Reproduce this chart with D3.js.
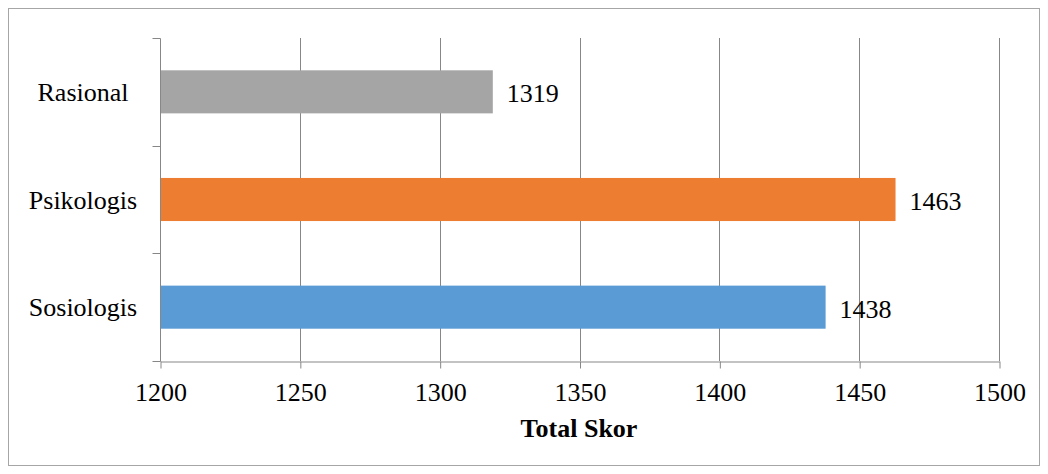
<!DOCTYPE html>
<html><head><meta charset="utf-8">
<script src="https://cdn.jsdelivr.net/npm/d3@7"></script>
<style>body{margin:0;background:#fff}svg{display:block}</style>
</head><body>
<script>
const categories = ["Rasional", "Psikologis", "Sosiologis"];
const values = [1319, 1463, 1438];
const colors = ["#A5A5A5", "#ED7D31", "#5B9BD5"];
const xTicks = [1200, 1250, 1300, 1350, 1400, 1450, 1500];
const xTitle = "Total Skor";

(function () {
const FONT = '"Liberation Serif", "Times New Roman", Times, serif';
const FS = 26;
const W = 1048, H = 474;
const svg = d3.select("body").append("svg").attr("width", W).attr("height", H);
svg.append("rect").attr("x", 8.5).attr("y", 8.5).attr("width", 1031).attr("height", 457)
  .attr("fill", "#fff").attr("stroke", "#A6A6A6").attr("stroke-width", 1);

const pLeft = 160, pRight = 999, pTop = 38, pBottom = 361;
const x = d3.scaleLinear().domain([1200, 1500]).range([pLeft, pRight]);
const y = d3.scaleBand().domain(categories).range([pTop, pBottom]).paddingInner(0.6).paddingOuter(0.3);
const yb = d3.scaleBand().domain(categories).range([pTop, pBottom]);

// gridlines
svg.append("g").selectAll("line").data(xTicks.slice(1)).join("line")
  .attr("x1", d => Math.round(x(d)) + 0.5).attr("x2", d => Math.round(x(d)) + 0.5)
  .attr("y1", pTop).attr("y2", pBottom).attr("stroke", "#878787").attr("stroke-width", 1);

// bars
svg.append("g").selectAll("rect").data(categories).join("rect")
  .attr("x", x(1200)).attr("y", d => y(d)).attr("height", y.bandwidth())
  .attr("width", (d, i) => x(values[i]) - x(1200)).attr("fill", (d, i) => colors[i]);

// value labels
svg.append("g").selectAll("text").data(categories).join("text")
  .attr("x", (d, i) => x(values[i]) + 14).attr("y", d => y(d) + y.bandwidth() / 2)
  .attr("dy", "0.4em").style("font-family", FONT).style("font-size", FS + "px")
  .attr("fill", "#000").text((d, i) => values[i]);

// x axis
const xa = svg.append("g").attr("transform", `translate(0.5,${pBottom + 0.5})`)
  .call(d3.axisBottom(x).tickValues(xTicks).tickFormat(d3.format("d")).tickSize(7).tickSizeOuter(0).tickPadding(14));
xa.select(".domain").attr("stroke", "#878787");
xa.selectAll(".tick line").attr("stroke", "#878787");
xa.selectAll("text").style("font-family", FONT).style("font-size", FS + "px").attr("fill", "#000");

// y axis
const ya = svg.append("g").attr("transform", `translate(${pLeft + 0.5},0.5)`);
ya.append("line").attr("x1", 0).attr("x2", 0).attr("y1", pTop).attr("y2", pBottom).attr("stroke", "#878787");
const bounds = [pTop, ...categories.map(c => yb(c) + yb.bandwidth())];
ya.selectAll(".yt").data(bounds).join("line").attr("class", "yt")
  .attr("x1", -8).attr("x2", 0).attr("y1", d => Math.round(d)).attr("y2", d => Math.round(d)).attr("stroke", "#878787");
svg.append("g").selectAll("text").data(categories).join("text")
  .attr("x", 83).attr("y", d => yb(d) + yb.bandwidth() / 2).attr("dy", "0.35em")
  .attr("text-anchor", "middle").style("font-family", FONT).style("font-size", FS + "px")
  .attr("fill", "#000").text(d => d);

svg.append("text").attr("x", 579).attr("y", 437).attr("text-anchor", "middle")
  .style("font-family", FONT).style("font-size", FS + "px").attr("font-weight", "bold")
  .attr("fill", "#000").text(xTitle);
})();
</script>
</body></html>
